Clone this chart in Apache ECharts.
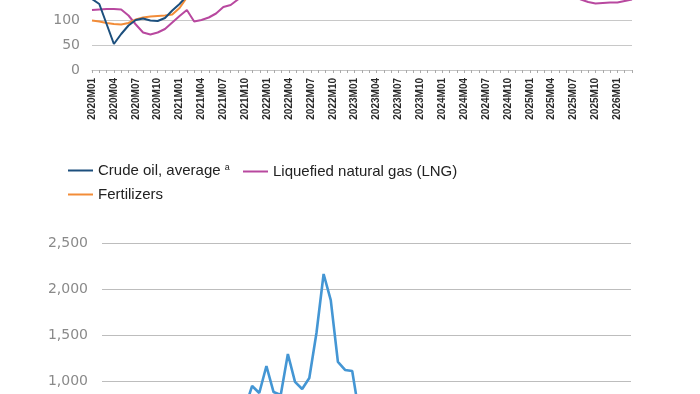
<!DOCTYPE html>
<html>
<head>
<meta charset="utf-8">
<script src="https://cdn.jsdelivr.net/npm/echarts@6/dist/echarts.min.js"></script>
<style>
html,body{margin:0;padding:0;background:#fff;}
#c{width:700px;height:394px;}
</style>
</head>
<body>
<div id="c"></div>
<script>
var months = [
 '2020M01','2020M02','2020M03','2020M04','2020M05','2020M06','2020M07','2020M08','2020M09','2020M10','2020M11','2020M12',
 '2021M01','2021M02','2021M03','2021M04','2021M05','2021M06','2021M07','2021M08','2021M09','2021M10','2021M11','2021M12',
 '2022M01','2022M02','2022M03','2022M04','2022M05','2022M06','2022M07','2022M08','2022M09','2022M10','2022M11','2022M12',
 '2023M01','2023M02','2023M03','2023M04','2023M05','2023M06','2023M07','2023M08','2023M09','2023M10','2023M11','2023M12',
 '2024M01','2024M02','2024M03','2024M04','2024M05','2024M06','2024M07','2024M08','2024M09','2024M10','2024M11','2024M12',
 '2025M01','2025M02','2025M03','2025M04','2025M05','2025M06','2025M07','2025M08','2025M09','2025M10','2025M11','2025M12',
 '2026M01','2026M02','2026M03'
];

var crudeOil = [
 142,132,92,52,72,89,100,103,99,98,104,119,
 132,148,154,153,161,173,177,167,176,199,192,177,
 203,226,272,250,267,283,254,232,213,219,211,189,
 195,194,186,199,179,178,190,205,221,211,195,184,
 190,195,202,212,196,194,200,189,175,179,175,176,
 187,179,171,157,151,165,165,160,160,152,150,148,
 152,154,156
];

var lng = [
 120,121,122,122,121,109,91,75,71,75,82,95,
 108,120,97,100,105,113,126,130,141,150,175,195,
 210,200,230,240,220,230,250,270,280,270,250,240,
 230,210,190,175,165,160,158,160,165,170,172,170,
 160,155,152,150,152,155,158,160,162,165,168,170,
 172,170,165,160,155,150,147,141,136,133,134,135,
 135,138,141
];

var fertilizers = [
 99,97,94,92,91,94,101,105,107,108,109,111,
 124,145,160,165,180,190,200,210,230,270,300,295,
 290,300,340,345,320,300,270,265,270,260,245,230,
 215,205,200,180,165,155,160,165,170,165,160,158,
 155,150,152,150,150,152,155,158,160,162,165,168,
 172,178,180,182,185,190,195,198,200,196,190,185,
 182,180,178
];

var gasEurope = [
 119,99,88,60,49,54,54,88,124,144,147,179,
 219,188,191,216,269,302,380,472,707,946,870,1163,
 880,848,1293,990,913,1033,1522,2163,1880,1207,1120,1109,
 633,512,426,420,318,321,302,340,355,438,438,370,
 306,253,265,284,309,340,327,370,355,395,420,441,
 469,491,404,358,361,380,358,349,340,340,324,309,
 309,300,300
];

var chart = echarts.init(document.getElementById('c'), null, {renderer: 'canvas'});

var legendText = {
  fontFamily: 'Liberation Sans, Arial, sans-serif',
  fontSize: 15,
  color: '#222',
  rich: {
    n: {fontFamily: 'Liberation Sans, Arial, sans-serif', fontSize: 15, color: '#222'},
    s: {fontFamily: 'Liberation Sans, Arial, sans-serif', fontSize: 9, color: '#222', padding: [0, 0, 6, 0]}
  }
};

var yLabel = {
  fontFamily: 'DejaVu Sans, sans-serif',
  fontSize: 14,
  color: '#8a8a8a'
};

var option = {
  animation: false,
  backgroundColor: '#fff',
  grid: [
    {left: 92, width: 540, top: -105, height: 175, outerBoundsMode: 'none'},
    {left: 102, width: 529, top: 243, height: 230, outerBoundsMode: 'none'}
  ],
  legend: [
    {
      data: ['Crude oil, average'], left: 68, top: 163, padding: 0, icon: 'rect',
      itemWidth: 25, itemHeight: 2, textStyle: legendText,
      formatter: function (n) { return '{n|' + n + '} {s|a}'; }
    },
    {
      data: ['Liquefied natural gas (LNG)'], left: 243, top: 164, padding: 0, icon: 'rect',
      itemWidth: 25, itemHeight: 2, textStyle: legendText
    },
    {
      data: ['Fertilizers'], left: 68, top: 187, padding: 0, icon: 'rect',
      itemWidth: 25, itemHeight: 2, textStyle: legendText
    }
  ],
  xAxis: [
    {
      type: 'category', gridIndex: 0, data: months, boundaryGap: false,
      axisLine: {lineStyle: {color: '#c4c4c4', width: 1}},
      axisTick: {show: true, interval: 0, length: 3, lineStyle: {color: '#aaa'}},
      axisLabel: {
        interval: 2, rotate: 90, margin: 8,
        fontFamily: 'Liberation Sans, Arial, sans-serif',
        fontWeight: 'bold', fontSize: 10, color: '#2a2a2a'
      },
      splitLine: {show: false}
    },
    {
      type: 'category', gridIndex: 1, data: months, boundaryGap: false,
      axisLine: {show: false}, axisTick: {show: false}, axisLabel: {show: false},
      splitLine: {show: false}
    }
  ],
  yAxis: [
    {
      type: 'value', gridIndex: 0, min: 0, max: 350, interval: 50,
      axisLine: {show: false}, axisTick: {show: false},
      axisLabel: Object.assign({margin: 12}, yLabel),
      splitLine: {show: true, lineStyle: {color: '#c8c8c8', width: 1.2}}
    },
    {
      type: 'value', gridIndex: 1, min: 0, max: 2500, interval: 500,
      axisLine: {show: false}, axisTick: {show: false},
      axisLabel: Object.assign({
        margin: 14,
        formatter: function (v) { return v.toLocaleString('en-US'); }
      }, yLabel),
      splitLine: {show: true, lineStyle: {color: '#bdbdbd', width: 1.2}}
    }
  ],
  series: [
    {
      name: 'Crude oil, average', type: 'line', xAxisIndex: 0, yAxisIndex: 0,
      data: crudeOil, showSymbol: false, symbol: 'none', z: 4,
      lineStyle: {color: '#1c4f7d', width: 2}, itemStyle: {color: '#1c4f7d'}
    },
    {
      name: 'Liquefied natural gas (LNG)', type: 'line', xAxisIndex: 0, yAxisIndex: 0,
      data: lng, showSymbol: false, symbol: 'none', z: 3,
      lineStyle: {color: '#b8489f', width: 2}, itemStyle: {color: '#b8489f'}
    },
    {
      name: 'Fertilizers', type: 'line', xAxisIndex: 0, yAxisIndex: 0,
      data: fertilizers, showSymbol: false, symbol: 'none', z: 3,
      lineStyle: {color: '#f28c38', width: 2}, itemStyle: {color: '#f28c38'}
    },
    {
      name: 'Natural gas, Europe', type: 'line', xAxisIndex: 1, yAxisIndex: 1,
      data: gasEurope, showSymbol: false, symbol: 'none',
      lineStyle: {color: '#4496d4', width: 2.6}, itemStyle: {color: '#4496d4'}
    }
  ]
};
chart.setOption(option);
</script>
</body>
</html>
